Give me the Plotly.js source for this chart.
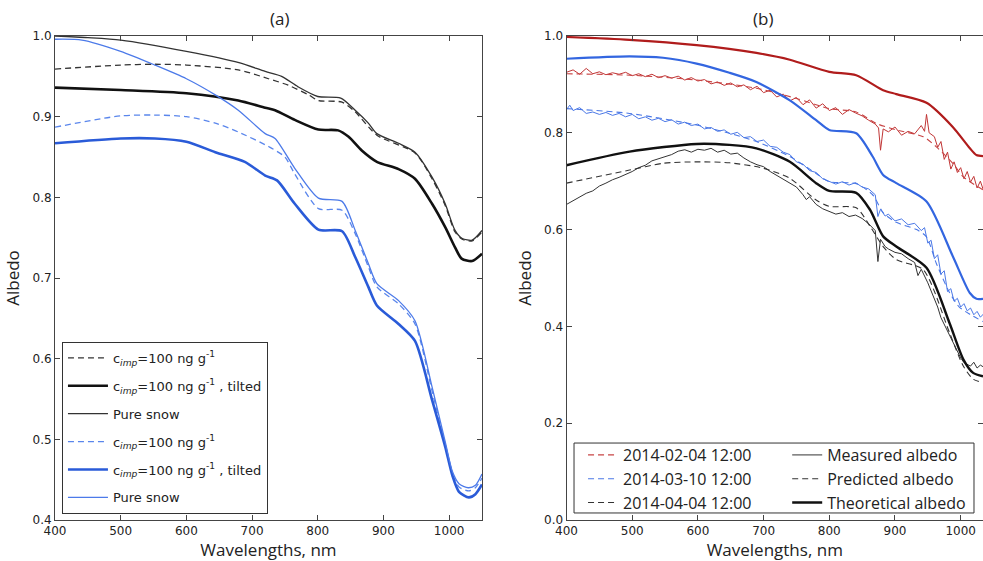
<!DOCTYPE html>
<html><head><meta charset="utf-8">
<script src="https://cdn.plot.ly/plotly-3.0.1.min.js"></script>
<style>html,body{margin:0;padding:0;background:#fff}#chart{width:983px;height:561px}</style>
</head><body><div id="chart"></div><script>
// ---------- Panel (a) data ----------
const aBlackDashX = [400,500,552,600,679,725,755,786,801,837,857,890,948,974,994,1009,1020,1035,1050];
const aBlackDashY = [0.959,0.964,0.965,0.964,0.958,0.947,0.939,0.927,0.920,0.918,0.906,0.877,0.855,0.823,0.790,0.757,0.748,0.746,0.757];
const aBlackTiltX = [400,500,600,679,720,735,765,801,831,847,867,890,923,948,974,994,1009,1019,1035,1050];
const aBlackTiltY = [0.936,0.933,0.929,0.920,0.911,0.908,0.896,0.884,0.883,0.875,0.858,0.844,0.835,0.823,0.792,0.763,0.738,0.724,0.721,0.730];
const aBlackPureX = [400,450,500,600,680,720,745,770,800,835,857,877,890,923,948,974,994,1009,1020,1035,1050];
const aBlackPureY = [1.000,0.998,0.995,0.981,0.967,0.956,0.950,0.937,0.925,0.923,0.908,0.892,0.879,0.867,0.856,0.825,0.792,0.759,0.749,0.747,0.759];
const aBlueDashX = [400,500,552,600,644,679,725,750,765,801,837,857,877,890,923,948,974,994,1005,1015,1030,1040,1050];
const aBlueDashY = [0.887,0.901,0.902,0.900,0.892,0.881,0.863,0.850,0.829,0.786,0.784,0.755,0.714,0.689,0.668,0.643,0.560,0.493,0.457,0.441,0.436,0.440,0.452];
const aBlueTiltX = [400,500,552,600,644,689,720,738,765,801,837,857,877,890,923,948,974,994,1005,1015,1030,1040,1050];
const aBlueTiltY = [0.867,0.873,0.873,0.869,0.856,0.844,0.827,0.821,0.792,0.760,0.758,0.726,0.689,0.666,0.643,0.622,0.549,0.491,0.455,0.435,0.428,0.432,0.444];
const aBluePureX = [400,441,500,552,600,644,679,720,735,765,801,837,857,877,890,923,948,974,994,1005,1015,1029,1040,1050];
const aBluePureY = [0.996,0.995,0.981,0.964,0.947,0.927,0.908,0.879,0.873,0.836,0.799,0.795,0.759,0.718,0.693,0.672,0.647,0.565,0.497,0.460,0.445,0.440,0.443,0.457];

// ---------- Panel (b) data ----------
const bRedTheoX = [400,496,598,689,740,800,841,882,902,948,988,1014,1024,1034];
const bRedTheoY = [0.998,0.992,0.981,0.965,0.951,0.926,0.919,0.888,0.880,0.862,0.812,0.768,0.754,0.752];
const bRedPredX = [400,496,598,689,750,800,841,872,902,943,963,988,1004,1034];
const bRedPredY = [0.922,0.919,0.909,0.892,0.871,0.850,0.843,0.819,0.806,0.792,0.771,0.737,0.709,0.682];
const bRedMeasX = [400,410,420,430,440,450,460,470,480,490,500,510,520,530,540,550,560,570,580,590,600,610,620,630,640,650,660,670,680,690,700,710,720,730,740,750,760,770,780,790,800,810,820,830,840,850,860,870,875,878,882,890,900,910,920,930,940,945,948,952,960,965,970,975,980,985,990,995,1000,1005,1010,1015,1020,1025,1030,1035];
const bRedMeasY = [0.925,0.930,0.921,0.933,0.922,0.926,0.920,0.924,0.921,0.925,0.918,0.922,0.916,0.921,0.914,0.918,0.913,0.917,0.909,0.914,0.907,0.910,0.901,0.905,0.898,0.903,0.895,0.899,0.889,0.896,0.883,0.888,0.874,0.880,0.866,0.873,0.858,0.868,0.851,0.860,0.846,0.852,0.838,0.848,0.841,0.835,0.826,0.818,0.810,0.764,0.808,0.802,0.812,0.795,0.803,0.798,0.815,0.803,0.838,0.800,0.792,0.770,0.782,0.745,0.760,0.725,0.740,0.718,0.728,0.705,0.720,0.698,0.710,0.686,0.700,0.680];

const bBlueTheoX = [400,496,547,598,648,689,740,780,800,841,866,882,902,948,988,1014,1024,1034];
const bBlueTheoY = [0.953,0.958,0.955,0.943,0.924,0.905,0.867,0.826,0.806,0.799,0.751,0.713,0.696,0.658,0.545,0.469,0.457,0.457];
const bBluePredX = [400,496,598,648,689,740,780,800,841,866,882,902,933,948,963,983,998,1014,1034];
const bBluePredY = [0.850,0.840,0.816,0.799,0.782,0.751,0.716,0.699,0.695,0.672,0.635,0.615,0.600,0.585,0.530,0.470,0.440,0.425,0.410];
const bBlueMeasX = [400,405,410,420,430,440,450,460,470,480,490,500,510,520,530,540,550,560,570,580,590,600,610,620,630,640,650,660,670,680,690,700,710,720,730,740,750,760,770,780,790,800,810,820,830,840,850,860,870,874,878,885,890,900,910,920,930,940,945,950,955,960,965,970,975,980,985,990,995,1000,1005,1010,1015,1020,1025,1030,1035];
const bBlueMeasY = [0.848,0.857,0.846,0.852,0.840,0.843,0.838,0.842,0.836,0.840,0.833,0.838,0.829,0.833,0.826,0.830,0.823,0.827,0.818,0.822,0.815,0.818,0.808,0.811,0.803,0.806,0.797,0.801,0.790,0.792,0.782,0.785,0.772,0.770,0.760,0.755,0.740,0.735,0.722,0.718,0.705,0.700,0.694,0.699,0.692,0.697,0.688,0.684,0.672,0.627,0.642,0.628,0.632,0.618,0.622,0.610,0.613,0.598,0.604,0.572,0.578,0.540,0.548,0.508,0.515,0.472,0.478,0.452,0.458,0.440,0.447,0.432,0.438,0.424,0.431,0.419,0.426];

const bBlackTheoX = [400,496,598,648,689,740,780,800,841,862,882,902,948,983,1004,1019,1034];
const bBlackTheoY = [0.733,0.761,0.777,0.775,0.768,0.740,0.696,0.680,0.676,0.641,0.586,0.565,0.521,0.407,0.332,0.304,0.297];
const bBlackPredX = [400,496,547,598,648,699,740,780,800,841,862,882,902,943,983,1004,1019,1034];
const bBlackPredY = [0.696,0.723,0.737,0.740,0.738,0.727,0.706,0.661,0.648,0.645,0.607,0.565,0.538,0.517,0.387,0.318,0.291,0.284];
const bBlackMeasX = [400,410,420,430,440,450,460,470,480,490,500,510,520,530,540,550,560,570,580,590,600,610,620,630,640,650,660,670,680,690,700,710,720,730,740,750,760,765,770,780,790,800,810,820,830,840,850,860,870,874,878,885,890,900,910,920,930,935,940,950,960,965,970,980,990,1000,1005,1010,1015,1020,1025,1030,1035];
const bBlackMeasY = [0.652,0.660,0.668,0.675,0.680,0.690,0.696,0.703,0.708,0.714,0.720,0.728,0.733,0.742,0.746,0.750,0.755,0.762,0.765,0.760,0.766,0.764,0.768,0.760,0.764,0.756,0.758,0.748,0.740,0.734,0.730,0.720,0.712,0.703,0.696,0.688,0.672,0.662,0.668,0.652,0.643,0.637,0.632,0.635,0.627,0.630,0.623,0.612,0.598,0.534,0.580,0.565,0.560,0.553,0.550,0.540,0.532,0.505,0.518,0.490,0.458,0.440,0.418,0.390,0.360,0.335,0.325,0.322,0.318,0.326,0.314,0.320,0.316];

const legendA = ["c<sub><i>imp</i></sub>=100 ng g<sup>-1</sup>", "c<sub><i>imp</i></sub>=100 ng g<sup>-1</sup> , tilted", "Pure snow"];
const legendDates = ["2014-02-04 12:00", "2014-03-10 12:00", "2014-04-04 12:00"];
const legendKinds = ["Measured albedo", "Predicted albedo", "Theoretical albedo"];

const BLK = '#111', BLK2 = '#333';
const BLU_T = '#2a5bd8', BLU_D = '#5a86ec', BLU_P = '#4c7ae9';
const RED_T = '#b01c1c', RED_M = '#c03535', RED_D = '#c84545';
const BBLU_T = '#3366e0', BBLU_M = '#4b78e6';
const DASH = '6px,4px';

function ln(x, y, color, width, dash, smooth, opts) {
  const line = {color: color, width: width, dash: dash || 'solid'};
  if (smooth) { line.shape = 'spline'; line.smoothing = 0.7; }
  return Object.assign({x: x, y: y, type: 'scatter', mode: 'lines', line: line, hoverinfo: 'skip'}, opts);
}
const A = (name, g) => ({xaxis: 'x', yaxis: 'y', name: name, legend: 'legend', legendgroup: g, showlegend: true});
const B = (name, lg) => (name ? {xaxis: 'x2', yaxis: 'y2', name: name, legend: lg, showlegend: true} : {xaxis: 'x2', yaxis: 'y2', showlegend: false});

const traces = [
  ln(aBlackDashX, aBlackDashY, BLK2, 1.3, DASH, true, A(legendA[0], 'g1')),
  ln(aBlackTiltX, aBlackTiltY, BLK, 2.6, 'solid', true, A(legendA[1], 'g2')),
  ln(aBlackPureX, aBlackPureY, BLK2, 1.3, 'solid', true, A(legendA[2], 'g3')),
  ln(aBlueDashX, aBlueDashY, BLU_D, 1.3, DASH, true, A(legendA[0], 'g4')),
  ln(aBlueTiltX, aBlueTiltY, BLU_T, 2.6, 'solid', true, A(legendA[1], 'g5')),
  ln(aBluePureX, aBluePureY, BLU_P, 1.3, 'solid', true, A(legendA[2], 'g6')),

  ln(bRedTheoX, bRedTheoY, RED_T, 2.2, 'solid', true, B()),
  ln(bRedMeasX, bRedMeasY, RED_M, 1.0, 'solid', false, B()),
  ln(bRedPredX, bRedPredY, RED_D, 1.1, DASH, true, B(legendDates[0], 'legend2')),
  ln(bBlueTheoX, bBlueTheoY, BBLU_T, 2.2, 'solid', true, B()),
  ln(bBlueMeasX, bBlueMeasY, BBLU_M, 1.0, 'solid', false, B()),
  ln(bBluePredX, bBluePredY, BBLU_M, 1.1, DASH, true, B(legendDates[1], 'legend2')),
  ln(bBlackPredX, bBlackPredY, BLK2, 1.1, DASH, true, B(legendDates[2], 'legend2')),
  ln(bBlackMeasX, bBlackMeasY, BLK2, 1.0, 'solid', false, B(legendKinds[0], 'legend3')),
  ln([null], [null], BLK2, 1.1, DASH, false, B(legendKinds[1], 'legend3')),
  ln(bBlackTheoX, bBlackTheoY, BLK, 2.4, 'solid', true, B(legendKinds[2], 'legend3'))
];

const tickFont = {family: 'DejaVu Sans', size: 12, color: '#222'};
const titleFont = {family: 'Open Sans', size: 17, color: '#222'};
function axis(extra) {
  return Object.assign({showline: true, linecolor: '#444', linewidth: 1, mirror: 'ticks',
    ticks: 'inside', ticklen: 5, tickcolor: '#444', showgrid: false, zeroline: false,
    tickfont: tickFont, fixedrange: true}, extra);
}

const layout = {
  width: 983, height: 561,
  margin: {l: 55, r: 0, t: 36, b: 41},
  paper_bgcolor: '#fff', plot_bgcolor: '#fff',
  showlegend: true,
  xaxis: axis({domain: [0, 0.4601], range: [400, 1050], tick0: 400, dtick: 100, anchor: 'y',
    title: {text: 'Wavelengths, nm', font: titleFont, standoff: 6}}),
  yaxis: axis({domain: [0, 1], range: [0.4, 1.0], dtick: 0.1, tickformat: '.1f', anchor: 'x',
    title: {text: 'Albedo', font: titleFont, standoff: 8}}),
  xaxis2: axis({domain: [0.5512, 1], range: [400, 1034], tick0: 400, dtick: 100, anchor: 'y2',
    title: {text: 'Wavelengths, nm', font: titleFont, standoff: 6}}),
  yaxis2: axis({domain: [0, 1], range: [0, 1.0], dtick: 0.2, tickformat: '.1f', anchor: 'x2',
    title: {text: 'Albedo', font: titleFont, standoff: 8}}),
  legend: {x: 0.0075, y: 0.368, xanchor: 'left', yanchor: 'top', bgcolor: '#fff',
    bordercolor: '#333', borderwidth: 1, font: {family: 'DejaVu Sans', size: 13, color: '#222'},
    traceorder: 'grouped', tracegroupgap: 8, itemwidth: 40},
  legend2: {x: 0.569, y: 0.1694, xanchor: 'left', yanchor: 'top', bgcolor: 'rgba(0,0,0,0)',
    borderwidth: 0, font: {family: 'Open Sans', size: 16, color: '#222'}, tracegroupgap: 0},
  legend3: {x: 0.789, y: 0.1694, xanchor: 'left', yanchor: 'top', bgcolor: 'rgba(0,0,0,0)',
    borderwidth: 0, font: {family: 'Open Sans', size: 16, color: '#222'}, tracegroupgap: 0},
  shapes: [{type: 'rect', xref: 'paper', yref: 'paper', x0: 0.5593, x1: 0.9903, y0: 0.0145, y1: 0.159,
    line: {color: '#333', width: 1}, fillcolor: 'rgba(0,0,0,0)', layer: 'below'}],
  annotations: [
    {text: '(a)', xref: 'paper', yref: 'paper', x: 0.23, y: 1, yanchor: 'bottom', yshift: 4, showarrow: false,
      font: {family: 'Open Sans', size: 17, color: '#222'}},
    {text: '(b)', xref: 'paper', yref: 'paper', x: 0.776, y: 1, yanchor: 'bottom', yshift: 4, showarrow: false,
      font: {family: 'Open Sans', size: 17, color: '#222'}}
  ]
};

Plotly.newPlot('chart', traces, layout, {displayModeBar: false, staticPlot: true});
</script></body></html>
